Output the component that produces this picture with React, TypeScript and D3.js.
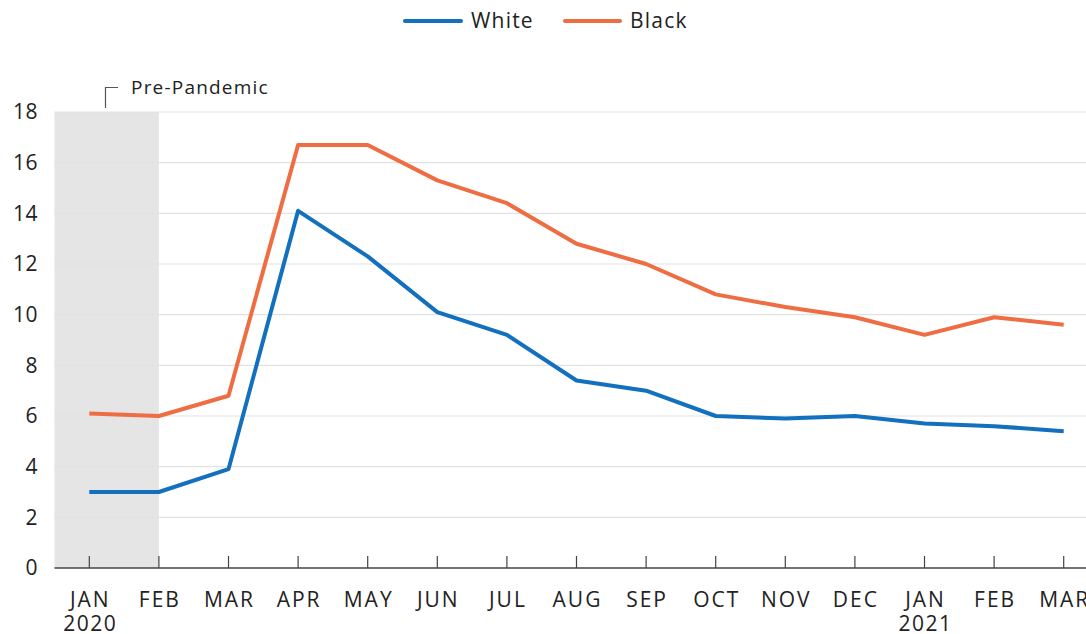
import React from "react";
import * as d3 from "d3";

const months = ["JAN", "FEB", "MAR", "APR", "MAY", "JUN", "JUL", "AUG", "SEP", "OCT", "NOV", "DEC", "JAN", "FEB", "MAR"];
const monthIds = months.map((m, i) => `${m}-${i}`);
const yearLabels: { index: number; label: string }[] = [
  { index: 0, label: "2020" },
  { index: 12, label: "2021" },
];
const whiteRate = [3.0, 3.0, 3.9, 14.1, 12.3, 10.1, 9.2, 7.4, 7.0, 6.0, 5.9, 6.0, 5.7, 5.6, 5.4];
const blackRate = [6.1, 6.0, 6.8, 16.7, 16.7, 15.3, 14.4, 12.8, 12.0, 10.8, 10.3, 9.9, 9.2, 9.9, 9.6];
const yTicks = [0, 2, 4, 6, 8, 10, 12, 14, 16, 18];
const series = [
  { name: "White", values: whiteRate, color: "#1270be" },
  { name: "Black", values: blackRate, color: "#ee6d42" },
];
const shadeEndIndex = 1;

const W = 1086;
const H = 634;
const FONT = "'Open Sans', 'Noto Sans', sans-serif";

export default function App() {
  const left = 54.5;
  const step = 69.6;
  const x = d3
    .scaleBand<string>()
    .domain(monthIds)
    .range([left, left + step * monthIds.length])
    .paddingInner(0)
    .paddingOuter(0);
  const cx = (i: number) => (x(monthIds[i]) as number) + x.bandwidth() / 2;
  const y = d3.scaleLinear().domain([0, 18]).range([568, 112]);

  const line = d3
    .line<number>()
    .x((_, i) => cx(i))
    .y((v) => y(v));

  return (
    <svg
      width={W}
      height={H}
      style={{ position: "fixed", left: 0, top: 0, background: "#fff", fontFamily: FONT }}
    >
      {/* pre-pandemic shading */}
      <rect x={left} y={y(18)} width={cx(shadeEndIndex) - left} height={y(0) - y(18)} fill="#e5e5e6" />

      {/* gridlines */}
      {yTicks.slice(1).map((t) => (
        <line key={t} x1={left} x2={W} y1={y(t)} y2={y(t)} stroke="#e2e2e2" strokeWidth={1.2} />
      ))}

      {/* y labels */}
      {yTicks.map((t) => (
        <text key={t} x={38} y={y(t)} dy="0.35em" textAnchor="end" fontSize={21} letterSpacing={0.5} fill="#222">
          {t}
        </text>
      ))}

      {/* x axis */}
      <line x1={left} x2={W} y1={y(0)} y2={y(0)} stroke="#444" strokeWidth={1.5} />
      {months.map((m, i) => (
        <g key={monthIds[i]}>
          <line x1={cx(i)} x2={cx(i)} y1={y(0) - 12} y2={y(0)} stroke="#444" strokeWidth={1.2} />
          <text x={cx(i) + 1} y={607} textAnchor="middle" fontSize={21} letterSpacing={2} fill="#222">
            {m}
          </text>
        </g>
      ))}
      {yearLabels.map((yl) => (
        <text key={yl.label} x={cx(yl.index) + 1} y={631} textAnchor="middle" fontSize={21} letterSpacing={1.5} fill="#222">
          {yl.label}
        </text>
      ))}

      {/* pre-pandemic bracket */}
      <path d="M105.5,108 V87.5 H118" fill="none" stroke="#555" strokeWidth={1.2} />
      <text x={131} y={87} dy="0.35em" fontSize={19} letterSpacing={1.2} fill="#222">
        Pre-Pandemic
      </text>

      {/* series lines */}
      {series.map((s) => (
        <path
          key={s.name}
          d={line(s.values) || ""}
          fill="none"
          stroke={s.color}
          strokeWidth={4}
          strokeLinejoin="round"
        />
      ))}

      {/* legend */}
      <g>
        <line x1={405} x2={461} y1={21} y2={21} stroke={series[0].color} strokeWidth={4} strokeLinecap="round" />
        <text x={471} y={21} dy="0.35em" fontSize={21} letterSpacing={1.2} fill="#222">
          {series[0].name}
        </text>
        <line x1={565} x2={620} y1={21} y2={21} stroke={series[1].color} strokeWidth={4} strokeLinecap="round" />
        <text x={630} y={21} dy="0.35em" fontSize={21} letterSpacing={1.2} fill="#222">
          {series[1].name}
        </text>
      </g>
    </svg>
  );
}
